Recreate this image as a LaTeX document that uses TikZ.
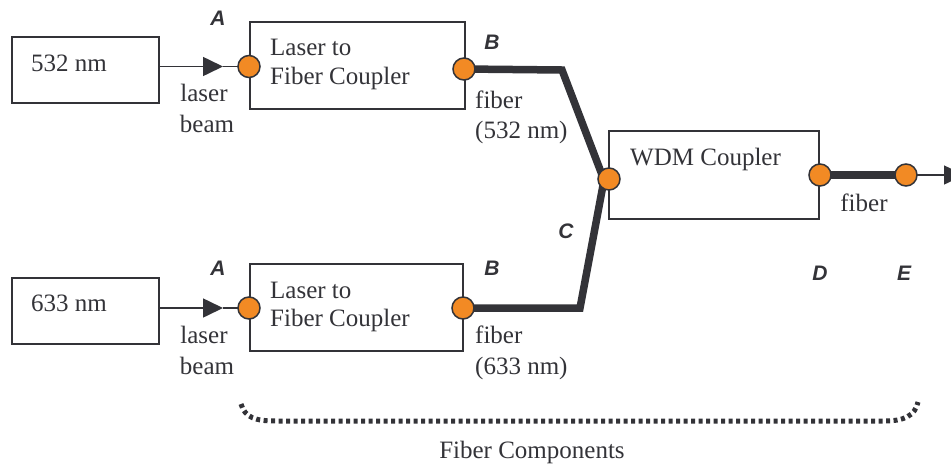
\documentclass[tikz,border=0pt]{standalone}
\usepackage{fontspec}
\setmainfont{Liberation Serif}
\newfontfamily\lblfont{Liberation Sans}
\usetikzlibrary{arrows.meta}
\definecolor{ink}{HTML}{333338}
\definecolor{orng}{HTML}{F28A24}
\tikzset{
  boxnode/.style={draw=ink, line width=1.3pt, rectangle, inner sep=0pt},
  port/.style={circle, draw=ink, line width=1.5pt, fill=orng, minimum size=22pt, inner sep=0pt},
  txt/.style={text=ink, font=\fontsize{25}{28}\selectfont, inner sep=0pt, anchor=base west},
  txtc/.style={text=ink, font=\fontsize{25}{28}\selectfont, inner sep=0pt, anchor=base},
  ltr/.style={text=ink, font=\lblfont\bfseries\itshape\fontsize{21}{24}\selectfont, inner sep=0pt},
  beam/.style={draw=ink, line width=1.6pt},
  fiberline/.style={draw=ink, line width=7.5pt, line join=miter},
  tip/.style={-{Triangle[length=20pt,width=19pt]}}
}
\begin{document}
\begin{tikzpicture}[x=1pt,y=-1pt]
\useasboundingbox (0,0) rectangle (951,464);
% boxes
\node[boxnode, minimum width=147pt, minimum height=66pt] (b532) at (85.5,70) {};
\node[boxnode, minimum width=215pt, minimum height=87pt] (lfc1) at (357.5,65.5) {};
\node[boxnode, minimum width=147pt, minimum height=66pt] (b633) at (85.5,311) {};
\node[boxnode, minimum width=213pt, minimum height=87pt] (lfc2) at (356.5,307.5) {};
\node[boxnode, minimum width=210pt, minimum height=88pt] (wdm) at (714,175) {};
% fibers
\coordinate (k1) at (562,70);
\coordinate (k2) at (580,308);
\coordinate (wj) at (604,180);
\coordinate (out) at (964,175);
\coordinate (t1) at (223,66.5);
\coordinate (t2) at (223,308);
\draw[fiberline] (464,69) -- (k1) -- (wj) -- (k2) -- (463,308);
\draw[fiberline] (820,175) -- (906,175);
% beams
\draw[beam, tip] (b532.east |- t1) -- (t1);
\draw[beam] (t1) -- (249,66.5);
\draw[beam, tip] (b633.east |- t2) -- (t2);
\draw[beam] (t2) -- (249,308);
\draw[beam, tip] (906,175) -- (out);
% ports
\node[port] (pa1) at (249,66.5) {};
\node[port] (pb1) at (464,69) {};
\node[port] (pa2) at (249,308) {};
\node[port] (pb2) at (463,308) {};
\node[port] (pw) at (609,179) {};
\node[port] (pd) at (820,175) {};
\node[port] (pe) at (906,175) {};
% texts
\node[txt] (x1) at (31,71) {532 nm};
\node[txt] (x2) at (31,311) {633 nm};
\node[txtc] (x3) at (204,101) {laser};
\node[txtc] (x4) at (207,132) {beam};
\node[txtc] (x5) at (204,343) {laser};
\node[txtc] (x6) at (207,374) {beam};
\node[txt] (x7) at (270,55) {Laser to};
\node[txt] (x8) at (270,84) {Fiber Coupler};
\node[txt] (x9) at (270,298) {Laser to};
\node[txt] (x10) at (270,326) {Fiber Coupler};
\node[txt] (x11) at (475,108) {fiber};
\node[txt] (x12) at (475,138) {(532 nm)};
\node[txt] (x13) at (475,343) {fiber};
\node[txt] (x14) at (475,374) {(633 nm)};
\node[txt] (x15) at (630,165) {WDM Coupler};
\node[txtc] (x16) at (864,211) {fiber};
\node[txtc] (x17) at (532,458) {Fiber Components};
% letters
\node[ltr] (la1) at (218,18) {A};
\node[ltr] (lb1) at (492,42) {B};
\node[ltr] (la2) at (218,268) {A};
\node[ltr] (lb2) at (492,268) {B};
\node[ltr] (lc) at (566,231) {C};
\node[ltr] (ld) at (820,273) {D};
\node[ltr] (le) at (904,273) {E};
% brace
\coordinate (br1) at (241,404);
\coordinate (br2) at (918,402);
\draw[ink, line width=5pt, dash pattern=on 4pt off 3.5pt] (br1) .. controls (245,418) and (256,421) .. (276,421) -- (884,421) .. controls (904,421) and (915,416) .. (br2);
\end{tikzpicture}
\end{document}
